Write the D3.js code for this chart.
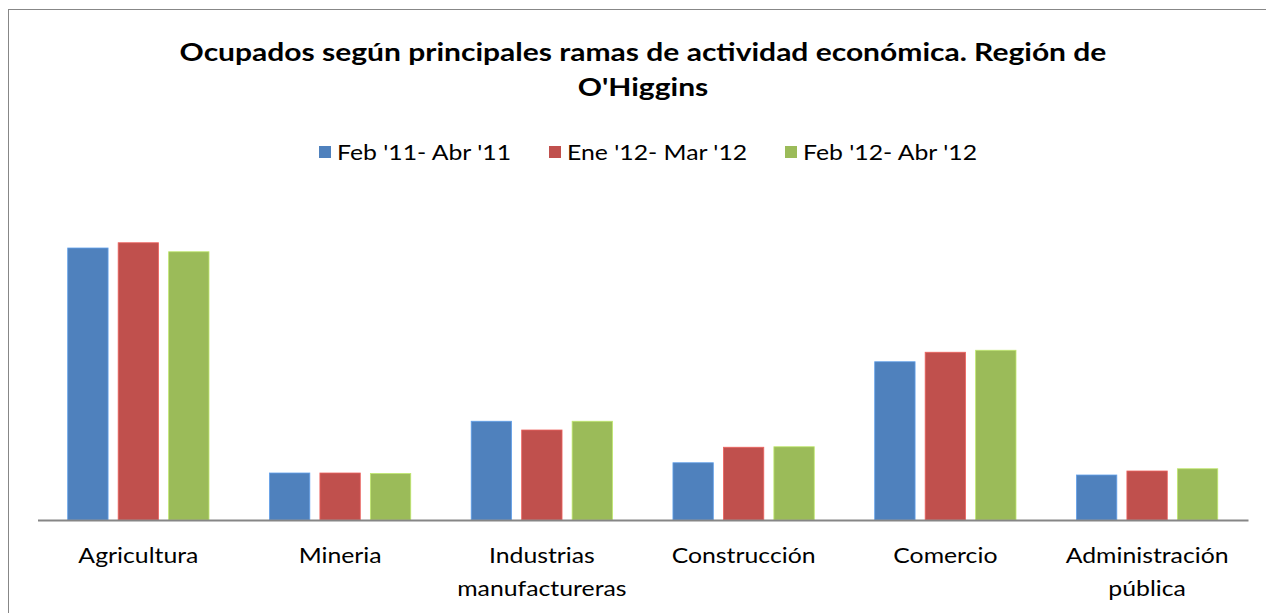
<!DOCTYPE html>
<html>
<head>
<meta charset="utf-8">
<script src="https://cdn.jsdelivr.net/npm/d3@7"></script>
<style>
  html, body { margin: 0; padding: 0; background: #fff; }
  svg { display: block; }
  text { font-family: Lato, "Open Sans", sans-serif; fill: #000; }
</style>
</head>
<body>
<svg id="chart" width="1266" height="613"></svg>
<script>
// Data (thousands of employed)
const categories = [["Agricultura"], ["Mineria"], ["Industrias", "manufactureras"], ["Construcción"], ["Comercio"], ["Administración", "pública"]];
const seriesNames = ["Feb '11- Abr '11", "Ene '12- Mar '12", "Feb '12- Abr '12"];
const seriesFeb11 = [108.8, 18.8, 39.5, 22.9, 63.3, 18.0];
const seriesEne12 = [110.9, 18.8, 36.0, 29.1, 67.1, 19.6];
const seriesFeb12 = [107.3, 18.6, 39.5, 29.3, 67.9, 20.5];
const colors = ["#4F81BD", "#C0504D", "#9BBB59"];
const titleLines = ["Ocupados según principales ramas de actividad económica. Región de", "O'Higgins"];

const series = [seriesFeb11, seriesEne12, seriesFeb12];
const svg = d3.select("#chart");

// widen glyphs horizontally to mimic the reference's font
function stretch(sel, k) {
  sel.each(function() {
    const w = this.getComputedTextLength();
    d3.select(this).attr("textLength", w * k).attr("lengthAdjust", "spacingAndGlyphs");
  });
}

// page fragment above the chart
svg.append("text").attr("x", 28).attr("y", -3).attr("font-size", 20).text("O'Higgins").call(stretch, 1.18);

// chart frame
svg.append("rect").attr("x", 8.5).attr("y", 9.5).attr("width", 1300).attr("height", 700)
  .attr("fill", "none").attr("stroke", "#878787").attr("stroke-width", 1);

const x0 = d3.scaleBand().domain(d3.range(categories.length)).range([37.5, 1248]).padding(0);
const x1 = d3.scaleBand().domain(d3.range(series.length)).range([30.2, 171.5]).paddingInner(0.2).paddingOuter(0);
const y = d3.scaleLinear().domain([0, 120]).range([520, 220]);

// bars
series.forEach((vals, si) => {
  svg.append("g").selectAll("rect").data(vals).join("rect")
    .attr("x", (d, i) => x0(i) + x1(si))
    .attr("width", x1.bandwidth())
    .attr("y", d => y(d))
    .attr("height", d => y(0) - y(d))
    .attr("fill", colors[si])
    .attr("stroke", d3.color(colors[si]).brighter(0.6))
    .attr("stroke-width", 0.8);
});

// x axis
const xAxis = d3.axisBottom(x0).tickSize(0).tickFormat("");
const ax = svg.append("g").attr("transform", `translate(0,${y(0)})`).call(xAxis);
ax.select(".domain").attr("stroke", "#868686").attr("stroke-width", 2);

// category labels (one text per line)
const labelLines = [];
categories.forEach((lines, i) => lines.forEach((line, k) => labelLines.push({ i, k, line })));
svg.append("g").selectAll("text").data(labelLines).join("text")
  .attr("text-anchor", "middle").attr("font-size", 21)
  .attr("x", d => x0(d.i) + x0.bandwidth() / 2)
  .attr("y", d => 563 + d.k * 33)
  .text(d => d.line)
  .call(stretch, 1.18);

// title
svg.append("g").selectAll("text").data(titleLines).join("text")
  .attr("x", 643).attr("y", (d, i) => 61 + i * 35)
  .attr("text-anchor", "middle").attr("font-size", 25).attr("font-weight", "bold")
  .text(d => d)
  .call(stretch, 1.2);

// legend
const legendX = [319, 549, 785];
const lg = svg.append("g").selectAll("g").data(seriesNames).join("g")
  .attr("transform", (d, i) => `translate(${legendX[i]},146)`);
lg.append("rect").attr("width", 12).attr("height", 12).attr("fill", (d, i) => colors[i]);
lg.append("text").attr("x", 18).attr("y", 14).attr("font-size", 21).text(d => d).call(stretch, 1.18);
</script>
</body>
</html>
